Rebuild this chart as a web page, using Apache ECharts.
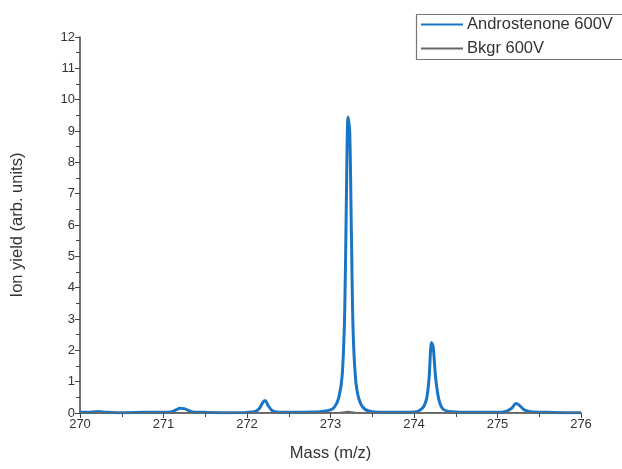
<!DOCTYPE html>
<html>
<head>
<meta charset="utf-8">
<script src="https://cdn.jsdelivr.net/npm/echarts@6/dist/echarts.min.js"></script>
<style>
  html, body { margin: 0; padding: 0; background: #fff; }
  #chart { width: 622px; height: 469px; }
</style>
</head>
<body>
<div id="chart"></div>
<script>
  // mass axis samples (m/z)
  var mass = [
    270.0, 270.1, 270.18, 270.22, 270.27, 270.35, 270.5, 270.8, 271.0, 271.1,
    271.15, 271.2, 271.25, 271.3, 271.35, 271.5, 271.8, 272.0, 272.1, 272.15,
    272.19, 272.22, 272.25, 272.3, 272.35, 272.5, 272.8, 272.9, 273.0, 273.05,
    273.1, 273.14, 273.17, 273.19, 273.21, 273.23, 273.25, 273.27, 273.3, 273.34,
    273.4, 273.5, 273.7, 274.0, 274.1, 274.15, 274.18, 274.21, 274.23, 274.26,
    274.3, 274.35, 274.45, 274.7, 275.0, 275.1, 275.17, 275.22, 275.26, 275.32,
    275.4, 275.6, 275.8, 276.0
  ];

  var andro = [
    0.02, 0.02, 0.04, 0.05, 0.03, 0.02, 0.01, 0.02, 0.02, 0.04,
    0.1, 0.15, 0.14, 0.08, 0.03, 0.02, 0.01, 0.02, 0.05, 0.15,
    0.34, 0.4, 0.25, 0.08, 0.03, 0.02, 0.03, 0.05, 0.1, 0.2,
    0.5, 1.2, 3.2, 6.8, 9.45, 9.0, 5.8, 2.7, 1.1, 0.45,
    0.15, 0.04, 0.02, 0.03, 0.15, 0.45, 1.1, 2.25, 2.1, 1.1,
    0.4, 0.12, 0.04, 0.02, 0.02, 0.05, 0.15, 0.3, 0.25, 0.1,
    0.04, 0.02, 0.01, 0.01
  ];

  var bkgr = [
    0.01, 0.01, 0.01, 0.01, 0.01, 0.01, 0.01, 0.01, 0.01, 0.01,
    0.01, 0.01, 0.01, 0.01, 0.01, 0.01, 0.01, 0.01, 0.01, 0.01,
    0.01, 0.01, 0.01, 0.01, 0.01, 0.01, 0.01, 0.01, 0.01, 0.01,
    0.02, 0.03, 0.04, 0.05, 0.05, 0.05, 0.04, 0.03, 0.02, 0.01,
    0.01, 0.01, 0.01, 0.01, 0.01, 0.01, 0.01, 0.01, 0.01, 0.01,
    0.01, 0.01, 0.01, 0.01, 0.01, 0.01, 0.01, 0.01, 0.01, 0.01,
    0.01, 0.01, 0.01, 0.01
  ];

  var seriesNames = ['Androstenone 600V', 'Bkgr 600V'];
  var seriesColors = ['#1a75c4', '#666'];

  function pairs(xs, ys) {
    return xs.map(function (x, i) { return [x, ys[i]]; });
  }

  var axisColor = '#444';
  var textColor = '#333';
  var font = 'Liberation Sans, Arial, sans-serif';

  var chart = echarts.init(document.getElementById('chart'), null, { renderer: 'canvas' });
  chart.setOption({
    animation: false,
    backgroundColor: '#fff',
    textStyle: { fontFamily: font },
    grid: { left: 80, right: 41, top: 37, bottom: 56 },
    // legend frame runs off the right edge, as in the source figure
    graphic: [{
      type: 'rect',
      left: 414,
      top: 12,
      shape: { width: 240, height: 45 },
      style: { fill: 'none', stroke: '#777', lineWidth: 1.2 }
    }],
    legend: {
      orient: 'vertical',
      left: 421,
      top: 16,
      icon: 'rect',
      itemWidth: 42,
      itemHeight: 2,
      itemGap: 7,
      padding: 0,
      textStyle: { fontSize: 16.5, color: textColor, fontFamily: font, padding: [0, 0, 0, -1] },
      data: seriesNames
    },
    xAxis: {
      type: 'value',
      min: 270,
      max: 276,
      interval: 1,
      name: 'Mass (m/z)',
      nameLocation: 'middle',
      nameGap: 32,
      nameTextStyle: { fontSize: 16.5, color: textColor },
      axisLine: { onZero: false, lineStyle: { color: axisColor, width: 1.5 } },
      axisTick: { show: true, length: 5, lineStyle: { color: axisColor } },
      minorTick: { show: true, splitNumber: 2, length: 4, lineStyle: { color: axisColor } },
      axisLabel: { fontSize: 13, color: textColor, margin: 5 },
      splitLine: { show: false }
    },
    yAxis: {
      type: 'value',
      min: 0,
      max: 12,
      interval: 1,
      name: 'Ion yield (arb. units)',
      nameLocation: 'middle',
      nameGap: 54,
      nameTextStyle: { fontSize: 16.5, color: textColor },
      axisLine: { show: true, lineStyle: { color: axisColor, width: 1.5 } },
      axisTick: { show: true, length: 5, lineStyle: { color: axisColor } },
      minorTick: { show: true, splitNumber: 2, length: 4, lineStyle: { color: axisColor } },
      axisLabel: { fontSize: 13, color: textColor, margin: 5 },
      splitLine: { show: false }
    },
    series: [
      {
        name: seriesNames[0],
        type: 'line',
        data: pairs(mass, andro),
        symbol: 'none',
        smooth: 0.3,
        lineStyle: { color: seriesColors[0], width: 3 },
        itemStyle: { color: seriesColors[0] },
        z: 2
      },
      {
        name: seriesNames[1],
        type: 'line',
        data: pairs(mass, bkgr),
        symbol: 'none',
        lineStyle: { color: seriesColors[1], width: 1.2 },
        itemStyle: { color: seriesColors[1] },
        z: 3
      }
    ]
  });
</script>
</body>
</html>
